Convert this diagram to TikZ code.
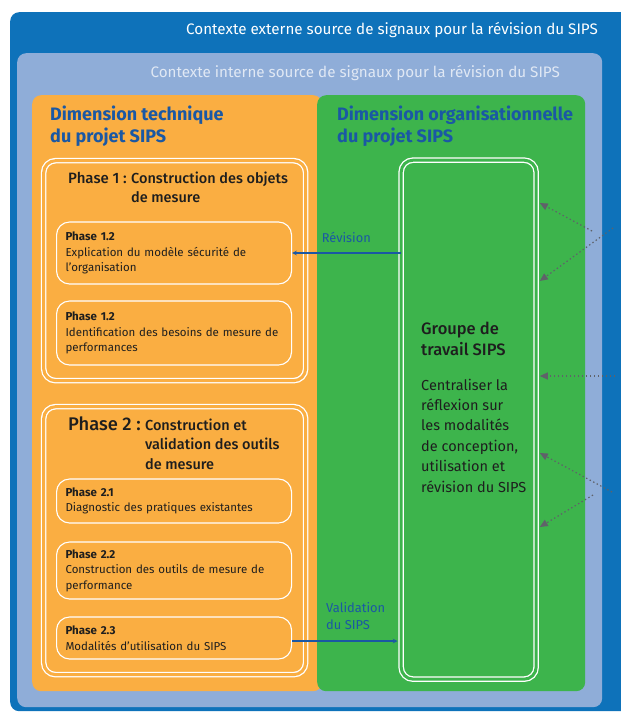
\documentclass[tikz,border=0pt]{standalone}
\usepackage{fontspec}
\setmainfont{Fira Sans}
\newfontfamily\medfont{Fira Sans Medium}
\usetikzlibrary{arrows, arrows.meta, positioning}
\definecolor{extblue}{RGB}{14,114,186}
\definecolor{intblue}{RGB}{143,173,216}
\definecolor{techorange}{RGB}{250,174,66}
\definecolor{orggreen}{RGB}{61,180,76}
\definecolor{titleblue}{RGB}{26,88,164}
\definecolor{signalgray}{RGB}{95,98,105}
\definecolor{inktext}{RGB}{30,30,30}
\tikzstyle{context} = [rectangle, rounded corners=9pt, anchor=north west, inner sep=0pt]
\tikzstyle{dimension} = [rectangle, rounded corners=9pt, anchor=north west, inner sep=0pt]
\tikzstyle{phase} = [draw=white, line width=1.3pt, double=techorange, double distance=3pt, rounded corners=12pt, anchor=north west, inner sep=0pt]
\tikzstyle{subphase} = [draw=white, line width=1.1pt, rounded corners=13pt, anchor=west, inner xsep=9pt, inner ysep=0pt, text width=217pt, align=left, text=inktext, font=\fontsize{11.5}{15.5}\selectfont]
\tikzstyle{headtext} = [anchor=base west, inner sep=0pt, align=left]
\tikzstyle{arrow} = [line width=1.1pt, titleblue, ->, >=stealth]
\tikzstyle{signal} = [line width=1.2pt, signalgray, dash pattern=on 1.4pt off 2.6pt, -{Triangle[length=8pt, width=7pt]}]

\begin{document}
\begin{tikzpicture}[x=1pt, y=-1pt]
    \useasboundingbox (0,0) rectangle (621,713);
    % Contexts
    \node (ExtContext) [context, fill=extblue, minimum width=640pt, minimum height=699pt] at (10,12) {};
    \node (IntContext) [context, fill=intblue, minimum width=585pt, minimum height=654pt] at (17,53) {};
    \node (ExtLabel) [anchor=base east, inner sep=0pt, text=white, font=\fontsize{15.2}{17}\selectfont] at (598,34) {Contexte externe source de signaux pour la révision du SIPS};
    \node (IntLabel) [anchor=base east, inner sep=0pt, text=white!72!intblue, font=\fontsize{15.2}{17}\selectfont] at (560,77) {Contexte interne source de signaux pour la révision du SIPS};

    % Dimensions
    \node (TechDim) [dimension, fill=techorange, minimum width=290pt, minimum height=596pt] at (32,95) {};
    \node (OrgDim) [dimension, fill=orggreen, minimum width=268pt, minimum height=596pt] at (317,95) {};
    \node (TechTitle) [headtext, text=titleblue, font=\fontsize{18}{21.5}\selectfont\bfseries] at (50,142) {Dimension technique\\du projet SIPS};
    \node (OrgTitle) [headtext, text=titleblue, font=\fontsize{18}{21.5}\selectfont\bfseries] at (337,142) {Dimension organisationnelle\\du projet SIPS};

    % Phase 1
    \node (PhaseOne) [phase, minimum width=262pt, minimum height=220pt] at (43,160) {};
    \node (PhaseOneNum) [headtext, text=inktext, font=\fontsize{15}{19}\selectfont\medfont] at (68,183) {Phase 1 :};
    \node (PhaseOneTitle) [headtext, text=inktext, font=\fontsize{14.5}{19}\selectfont\medfont, xshift=4pt, yshift=-19pt] at (PhaseOneNum.base east) {Construction des objets\\de mesure};
    \node (StepOneA) [subphase, minimum width=235pt, minimum height=62pt] at (56,253) {\textbf{Phase 1.2}\\Explication du modèle sécurité de\\l'organisation};
    \node (StepOneB) [subphase, minimum width=235pt, minimum height=64pt] at (56,333) {\textbf{Phase 1.2}\\Identification des besoins de mesure de\\performances};

    % Phase 2
    \node (PhaseTwo) [phase, minimum width=262pt, minimum height=268pt] at (43,406) {};
    \node (PhaseTwoNum) [headtext, text=inktext, font=\fontsize{18.3}{20}\selectfont\medfont] at (68,430) {Phase 2 :};
    \node (PhaseTwoTitle) [headtext, text=inktext, font=\fontsize{14.5}{19.5}\selectfont\medfont, xshift=4pt, yshift=-39pt] at (PhaseTwoNum.base east) {Construction et\\validation des outils\\de mesure};
    \node (StepTwoA) [subphase, minimum width=235pt, minimum height=44pt] at (56,501) {\textbf{Phase 2.1}\\Diagnostic des pratiques existantes};
    \node (StepTwoB) [subphase, minimum width=235pt, minimum height=57pt] at (56,570.5) {\textbf{Phase 2.2}\\Construction des outils de mesure de\\performance};
    \node (StepTwoC) [subphase, minimum width=235pt, minimum height=42pt] at (56,638) {\textbf{Phase 2.3}\\Modalités d'utilisation du SIPS};

    % Groupe de travail
    \node (Groupe) [phase, double=orggreen, minimum width=135pt, minimum height=519pt] at (400.5,159.5) {};
    \node (GroupeTitle) [headtext, text=inktext, font=\fontsize{16.5}{20.5}\selectfont\medfont] at (421,355) {Groupe de\\travail SIPS};
    \node (GroupeText) [headtext, text=inktext, font=\fontsize{14.5}{20.4}\selectfont] at (421,492) {Centraliser la\\réflexion sur\\les modalités\\de conception,\\utilisation et\\révision du SIPS};

    % Arrows
    \draw [arrow] (Groupe.west |- StepOneA.east) -- (StepOneA.east) node[midway, above=6pt, text=titleblue, font=\fontsize{12.8}{14}\selectfont] {Révision};
    \draw [arrow] (StepTwoC.east |- 0,641) -- ([xshift=-3pt]Groupe.west |- 0,641);
    \node (ValidLabel) [headtext, text=titleblue, font=\fontsize{12.9}{17}\selectfont] at (326,629) {Validation\\du SIPS};

    % Signals from the contexts
    \coordinate (GroupeEdge) at ([xshift=3pt]Groupe.east);
    \coordinate (SigTopIn) at (592,231);
    \coordinate (SigTopOut) at (613,228);
    \coordinate (SigMid) at (615,376);
    \coordinate (SigLowOut) at (612,492);
    \coordinate (SigLowIn) at (593,495);
    \draw [signal] (SigTopIn) -- (GroupeEdge |- 0,203);
    \draw [signal] (SigTopOut) -- (GroupeEdge |- 0,281);
    \draw [signal] (SigMid) -- (GroupeEdge |- 0,376);
    \draw [signal] (SigLowOut) -- (GroupeEdge |- 0,453);
    \draw [signal] (SigLowIn) -- (GroupeEdge |- 0,527);
\end{tikzpicture}
\end{document}
